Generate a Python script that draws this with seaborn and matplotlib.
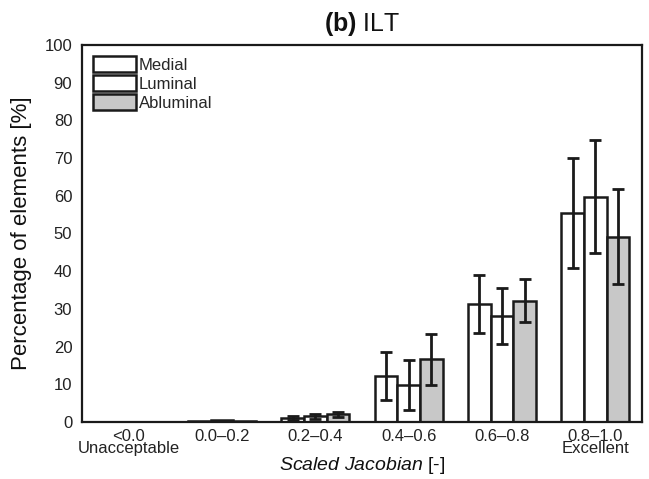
import numpy as np
import pandas as pd
import seaborn as sns
import matplotlib.pyplot as plt
import matplotlib.patches as mpatches

categories = ["<0.0\nUnacceptable", "0.0–0.2", "0.2–0.4", "0.4–0.6", "0.6–0.8", "0.8–1.0\nExcellent"]
series = ["Medial", "Luminal", "Abluminal"]
medial = [0.0, 0.2, 1.0, 12.3, 31.3, 55.4]
luminal = [0.0, 0.4, 1.5, 9.8, 28.1, 59.8]
abluminal = [0.0, 0.2, 2.0, 16.6, 32.2, 49.2]
medial_err = [0.0, 0.0, 0.5, 6.4, 7.8, 14.5]
luminal_err = [0.0, 0.0, 0.6, 6.6, 7.5, 15.0]
abluminal_err = [0.0, 0.0, 0.7, 6.7, 5.8, 12.7]
colors = ["white", "white", "#c8c8c8"]

vals = {"Medial": medial, "Luminal": luminal, "Abluminal": abluminal}
errs = {"Medial": medial_err, "Luminal": luminal_err, "Abluminal": abluminal_err}

rows = []
for s in series:
    for c, v in zip(categories, vals[s]):
        rows.append({"cat": c, "series": s, "val": v})
df = pd.DataFrame(rows)

sns.set_theme(style="white")
plt.rcParams['font.family'] = ['Liberation Sans', 'DejaVu Sans']
plt.rcParams['mathtext.fontset'] = 'custom'
plt.rcParams['mathtext.rm'] = 'Liberation Sans'
plt.rcParams['mathtext.it'] = 'Liberation Sans:italic'
plt.rcParams['mathtext.bf'] = 'Liberation Sans:bold'

fig = plt.figure(figsize=(6.49, 4.79), dpi=100)
ax = fig.add_axes([82/649, 1-422/479, 560/649, 377/479])

edge = "#1a1a1a"
sns.barplot(data=df, x="cat", y="val", hue="series", order=categories, hue_order=series,
            palette=colors, edgecolor=edge, linewidth=1.8, width=0.73,
            errorbar=None, ax=ax, legend=False)

for cont, s in zip(ax.containers, series):
    xs, ys, es = [], [], []
    for p, v, e in zip(cont.patches, vals[s], errs[s]):
        if e > 0:
            xs.append(p.get_x() + p.get_width()/2)
            ys.append(v)
            es.append(e)
    ax.errorbar(xs, ys, yerr=es, fmt='none', ecolor=edge, elinewidth=2,
                capsize=4, capthick=2, zorder=5)

ax.set_xlim(-0.5, 5.5)
ax.set_ylim(0, 100)
ax.set_yticks(range(0, 101, 10))
ax.tick_params(axis='both', length=0, labelsize=12, colors='#222222')
ax.tick_params(axis='x', pad=5)
ax.tick_params(axis='y', pad=7)
for lab in ax.get_xticklabels():
    lab.set_linespacing(0.78)
for sp in ax.spines.values():
    sp.set_visible(True)
    sp.set_color(edge)
    sp.set_linewidth(1.6)

ax.set_ylabel("Percentage of elements [%]", fontsize=16, color='#111111', labelpad=9)
ax.set_xlabel(r"$\it{Scaled\ Jacobian}$ [-]", fontsize=14, color='#111111', labelpad=-1)
ax.set_title(r"$\bf{(b)}$ ILT", fontsize=18, color='#111111', pad=10)

handles = [mpatches.Patch(facecolor=c, edgecolor=edge, linewidth=1.8, label=s)
           for c, s in zip(colors, series)]
ax.legend(handles=handles, loc='upper left', frameon=False, fontsize=12,
          handlelength=2.6, handleheight=1.15, handletextpad=0.15,
          labelspacing=0.12, borderaxespad=0.35, borderpad=0.3)

fig.savefig("out.png", dpi=100)
